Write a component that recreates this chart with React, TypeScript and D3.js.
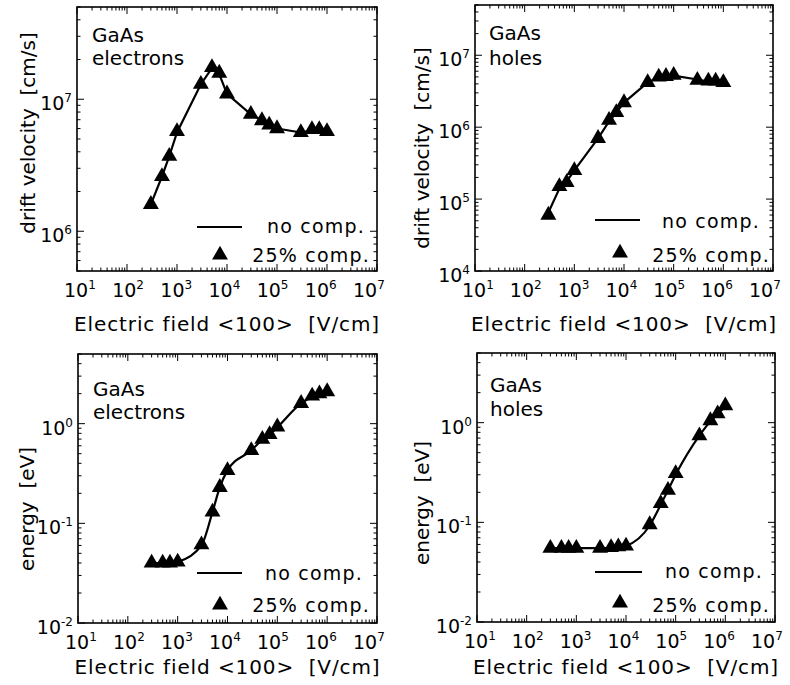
import React, { useRef, useEffect } from "react";
import * as d3 from "d3";

// electric field points [V/cm], shared by all four panels
const fieldValues = [300, 500, 700, 1e3, 3e3, 5e3, 7e3, 1e4, 3e4, 5e4, 7e4, 1e5, 3e5, 5e5, 7e5, 1e6];

// drift velocity [cm/s]
const elecVelComp25 = [1.6e6, 2.6e6, 3.7e6, 5.7e6, 1.3e7, 1.74e7, 1.58e7, 1.1e7, 7.7e6, 6.9e6, 6.4e6, 6.0e6, 5.6e6, 5.9e6, 5.9e6, 5.7e6];
const elecVelNoComp = [1.6e6, 2.6e6, 3.7e6, 5.6e6, 1.3e7, 1.72e7, 1.55e7, 1.1e7, 7.7e6, 6.9e6, 6.4e6, 6.0e6, 5.6e6, 5.8e6, 5.8e6, 5.7e6];
const holeVelComp25 = [6e4, 1.5e5, 1.7e5, 2.5e5, 7e5, 1.25e6, 1.6e6, 2.2e6, 4.2e6, 5.0e6, 5.1e6, 5.3e6, 4.5e6, 4.4e6, 4.4e6, 4.2e6];
const holeVelNoComp = [6.5e4, 1.4e5, 1.75e5, 2.5e5, 7e5, 1.2e6, 1.6e6, 2.2e6, 4.2e6, 4.9e6, 5.1e6, 5.2e6, 4.6e6, 4.3e6, 4.2e6, 4.0e6];

// mean energy [eV]
const elecEnComp25 = [0.04, 0.04, 0.04, 0.041, 0.061, 0.13, 0.23, 0.34, 0.54, 0.7, 0.78, 0.93, 1.6, 1.9, 2.0, 2.1];
const elecEnNoComp = [0.04, 0.04, 0.04, 0.041, 0.06, 0.13, 0.23, 0.34, 0.54, 0.69, 0.78, 0.92, 1.6, 1.85, 2.0, 2.1];
const holeEnComp25 = [0.055, 0.055, 0.055, 0.055, 0.055, 0.056, 0.057, 0.058, 0.095, 0.155, 0.21, 0.31, 0.74, 1.05, 1.23, 1.48];
const holeEnNoComp = [0.055, 0.055, 0.055, 0.055, 0.055, 0.055, 0.056, 0.058, 0.093, 0.15, 0.21, 0.3, 0.74, 1.03, 1.22, 1.45];

const xTickExps = [1, 2, 3, 4, 5, 6, 7];
const legendLabels = ["no comp.", "25% comp."];

const FONT = "'DejaVu Sans', Verdana, sans-serif";

const panels = [
	{
		left: 77, right: 377, top: 7, bottom: 271,
		yDomain: [5e5, 5e7], yExps: [6, 7],
		yLabel: "drift velocity  [cm/s]", yLabelX: 28, yLabelY: 133,
		title: ["GaAs", "electrons"], titleX: 92, titleY: [42, 65],
		xLabelY: 331, smooth: false,
		comp: elecVelComp25, line: elecVelNoComp,
		leg: { lx1: 197, lx2: 242, ly: 227, t1x: 365, t1y: 233, tx: 220, ty: 255, t2x: 370, t2y: 262 },
	},
	{
		left: 475, right: 773, top: 5, bottom: 271,
		yDomain: [1e4, 5e7], yExps: [4, 5, 6, 7],
		yLabel: "drift velocity  [cm/s]", yLabelX: 422, yLabelY: 148,
		title: ["GaAs", "holes"], titleX: 489, titleY: [40, 65],
		xLabelY: 331, smooth: false,
		comp: holeVelComp25, line: holeVelNoComp,
		leg: { lx1: 595, lx2: 640, ly: 220, t1x: 760, t1y: 228, tx: 620, ty: 253, t2x: 770, t2y: 262 },
	},
	{
		left: 78, right: 377, top: 354, bottom: 623,
		yDomain: [0.01, 5], yExps: [-2, -1, 0],
		yLabel: "energy  [eV]", yLabelX: 27, yLabelY: 509,
		title: ["GaAs", "electrons"], titleX: 93, titleY: [396, 419],
		xLabelY: 674, smooth: true,
		comp: elecEnComp25, line: elecEnNoComp,
		leg: { lx1: 197, lx2: 242, ly: 573, t1x: 363, t1y: 580, tx: 220, ty: 605, t2x: 370, t2y: 612 },
	},
	{
		left: 477, right: 775, top: 353, bottom: 622,
		yDomain: [0.01, 5], yExps: [-2, -1, 0],
		yLabel: "energy  [eV]", yLabelX: 422, yLabelY: 503,
		title: ["GaAs", "holes"], titleX: 490, titleY: [392, 416],
		xLabelY: 674, smooth: true,
		comp: holeEnComp25, line: holeEnNoComp,
		leg: { lx1: 595, lx2: 642, ly: 572, t1x: 763, t1y: 578, tx: 620, ty: 603, t2x: 770, t2y: 612 },
	},
];

// every 1..9 x 10^k value inside the domain
function logTicks(d0: number, d1: number) {
	const out: { v: number; major: boolean }[] = [];
	for (let k = Math.floor(Math.log10(d0)); k <= Math.ceil(Math.log10(d1)); k++) {
		for (let m = 1; m <= 9; m++) {
			const v = m * Math.pow(10, k);
			if (v >= d0 * 0.999 && v <= d1 * 1.001) out.push({ v, major: m === 1 });
		}
	}
	return out;
}

const App = () => {
	const ref = useRef<SVGSVGElement>(null);

	useEffect(() => {
		const svg = d3.select(ref.current);
		svg.selectAll("*").remove();
		svg.append("rect").attr("width", 790).attr("height", 685).attr("fill", "#fff");

		const tri = d3.symbol().type(d3.symbolTriangle).size(110);

		panels.forEach((p) => {
			const g = svg.append("g");
			const x = d3.scaleLog().domain([10, 1e7]).range([p.left, p.right]);
			const y = d3.scaleLog().domain(p.yDomain).range([p.bottom, p.top]);
			// tick labels in the original sit a little left of their ticks
			const xLab = d3.scaleLog().domain([10, 1e7]).range([p.left - 1, p.right - 12]);

			// ticks on all four sides, pointing inward
			const xt = logTicks(10, 1e7);
			const yt = logTicks(p.yDomain[0], p.yDomain[1]);
			const len = (d: { major: boolean }) => (d.major ? 7 : 3.5);

			g.selectAll(".xb").data(xt).enter().append("line")
				.attr("x1", (d) => x(d.v)).attr("x2", (d) => x(d.v))
				.attr("y1", p.bottom).attr("y2", (d) => p.bottom - len(d))
				.attr("stroke", "#000").attr("stroke-width", 1);
			g.selectAll(".xt").data(xt).enter().append("line")
				.attr("x1", (d) => x(d.v)).attr("x2", (d) => x(d.v))
				.attr("y1", p.top).attr("y2", (d) => p.top + len(d))
				.attr("stroke", "#000").attr("stroke-width", 1);
			g.selectAll(".yl").data(yt).enter().append("line")
				.attr("y1", (d) => y(d.v)).attr("y2", (d) => y(d.v))
				.attr("x1", p.left).attr("x2", (d) => p.left + len(d))
				.attr("stroke", "#000").attr("stroke-width", 1);
			g.selectAll(".yr").data(yt).enter().append("line")
				.attr("y1", (d) => y(d.v)).attr("y2", (d) => y(d.v))
				.attr("x1", p.right).attr("x2", (d) => p.right - len(d))
				.attr("stroke", "#000").attr("stroke-width", 1);

			g.append("rect")
				.attr("x", p.left).attr("y", p.top)
				.attr("width", p.right - p.left).attr("height", p.bottom - p.top)
				.attr("fill", "none").attr("stroke", "#000").attr("stroke-width", 1.6);

			// x tick labels 10^n, the "10" centred on the label scale
			xTickExps.forEach((e) => {
				const t = g.append("text")
					.attr("x", xLab(Math.pow(10, e)) - 12).attr("y", p.bottom + 26)
					.attr("font-family", FONT).attr("font-size", 19);
				t.append("tspan").text("10");
				t.append("tspan").attr("dy", -8).attr("font-size", 12).text(String(e));
			});

			// y tick labels
			p.yExps.forEach((e) => {
				const t = g.append("text")
					.attr("x", p.left - 5).attr("y", y(Math.pow(10, e)) + 11)
					.attr("text-anchor", "end")
					.attr("font-family", FONT).attr("font-size", 19);
				t.append("tspan").text("10");
				t.append("tspan").attr("dy", -8).attr("font-size", 12).text(String(e));
			});

			// axis titles
			g.append("text")
				.attr("x", (p.left + p.right) / 2).attr("y", p.xLabelY)
				.attr("text-anchor", "middle")
				.attr("font-family", FONT).attr("font-size", 20)
				.attr("letter-spacing", 0.9)
				.style("white-space", "pre")
				.text("Electric field <100>  [V/cm]");
			g.append("text")
				.attr("transform", `translate(${p.yLabelX},${p.yLabelY}) rotate(-90)`)
				.attr("dy", "0.35em")
				.attr("text-anchor", "middle")
				.attr("font-family", FONT).attr("font-size", 20)
				.style("white-space", "pre")
				.text(p.yLabel);

			// material / carrier note
			p.title.forEach((s, i) => {
				g.append("text")
					.attr("x", p.titleX).attr("y", p.titleY[i])
					.attr("font-family", FONT).attr("font-size", 20)
					.text(s);
			});

			// no comp. curve
			const pts = fieldValues.map((f, i) => ({ f, v: p.line[i] }));
			g.append("path")
				.datum(pts)
				.attr("d", d3.line<{ f: number; v: number }>()
					.x((d) => x(d.f)).y((d) => y(d.v))
					.curve(p.smooth ? d3.curveMonotoneX : d3.curveLinear))
				.attr("fill", "none").attr("stroke", "#000").attr("stroke-width", 2.2);

			// 25% comp. triangles
			g.selectAll(".tri")
				.data(fieldValues.map((f, i) => ({ f, v: p.comp[i] })))
				.enter().append("path")
				.attr("transform", (d) => `translate(${x(d.f)},${y(d.v)})`)
				.attr("d", tri())
				.attr("fill", "#000");

			// legend
			const L = p.leg;
			g.append("line").attr("x1", L.lx1).attr("x2", L.lx2).attr("y1", L.ly).attr("y2", L.ly)
				.attr("stroke", "#000").attr("stroke-width", 2.2);
			g.append("text").attr("x", L.t1x).attr("y", L.t1y).attr("text-anchor", "end")
				.attr("font-family", FONT).attr("font-size", 19).attr("letter-spacing", 1.2)
				.text(legendLabels[0]);
			g.append("path").attr("transform", `translate(${L.tx},${L.ty})`).attr("d", tri()).attr("fill", "#000");
			g.append("text").attr("x", L.t2x).attr("y", L.t2y).attr("text-anchor", "end")
				.attr("font-family", FONT).attr("font-size", 19).attr("letter-spacing", 1.2)
				.text(legendLabels[1]);
		});
	}, []);

	return (
		<svg ref={ref} width={790} height={685} style={{ position: "absolute", left: 0, top: 0 }}></svg>
	);
};

export default App;
